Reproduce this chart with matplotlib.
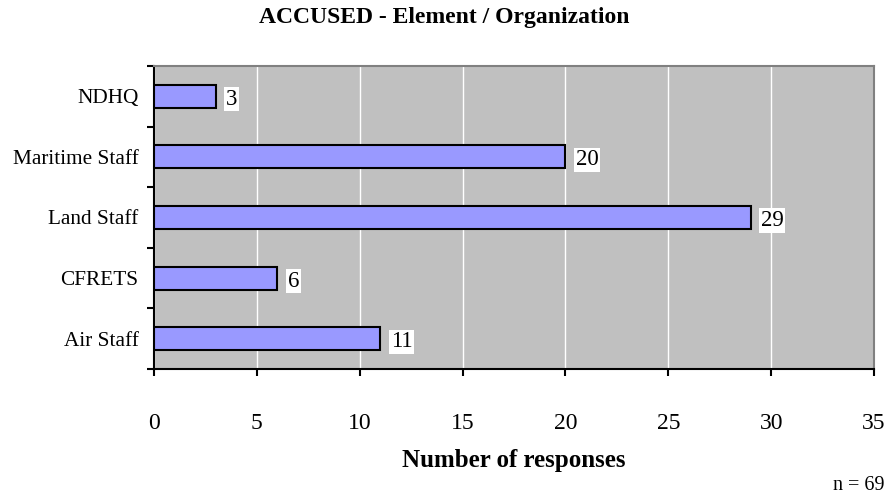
import numpy as np
import matplotlib
matplotlib.use('Agg')
import matplotlib.pyplot as plt

plt.rcParams['font.family'] = ['Liberation Serif', 'DejaVu Serif']

categories = ['Air Staff', 'CFRETS', 'Land Staff', 'Maritime Staff', 'NDHQ']
responses = [11, 6, 29, 20, 3]
x_ticks = [0, 5, 10, 15, 20, 25, 30, 35]

fig = plt.figure(figsize=(8.88, 4.97), dpi=100)
ax = fig.add_axes([154 / 888, 1 - 369 / 497, 720 / 888, 303 / 497])

y_pos = np.arange(len(categories))
ax.set_facecolor('#C0C0C0')
ax.barh(y_pos, responses, height=0.38, color='#9999FF', edgecolor='black',
        linewidth=1.5, zorder=3)

# value labels on white boxes, just right of each bar
for y, v in zip(y_pos, responses):
    ax.text(v + 0.5, y - 0.05, str(v), va='center', ha='left', fontsize=16.5,
            bbox=dict(facecolor='white', edgecolor='none', pad=1.2), zorder=4)

ax.set_xlim(0, 35)
ax.set_ylim(-0.5, len(categories) - 0.5)
ax.set_xticks(x_ticks)
ax.set_xticklabels([str(t) for t in x_ticks], fontsize=17)
ax.set_yticks(np.arange(-0.5, len(categories), 1.0))
ax.set_yticklabels([])
ax.set_yticks(y_pos, minor=True)
ax.set_yticklabels(categories, minor=True, fontsize=15.3)
ax.tick_params(axis='y', which='minor', length=0, pad=11)
ax.tick_params(axis='y', which='major', length=5, width=1.5, direction='out')
ax.tick_params(axis='x', length=5, width=1.5, direction='out', pad=27)

ax.xaxis.grid(True, color='white', linewidth=1, zorder=0)
ax.set_axisbelow(True)

for s in ['left', 'bottom']:
    ax.spines[s].set_color('black')
    ax.spines[s].set_linewidth(1.5)
for s in ['top', 'right']:
    ax.spines[s].set_color('#808080')
    ax.spines[s].set_linewidth(1.5)

fig.text(0.5, 1 - 18 / 497, 'ACCUSED - Element / Organization', ha='center',
         va='center', fontsize=17, fontweight='bold')
fig.text(514 / 888, 1 - 461 / 497, 'Number of responses', ha='center',
         va='center', fontsize=18, fontweight='bold')
fig.text(884 / 888, 1 - 486 / 497, 'n = 69', ha='right', va='center', fontsize=14.5)

fig.savefig('out.png', dpi=100)
